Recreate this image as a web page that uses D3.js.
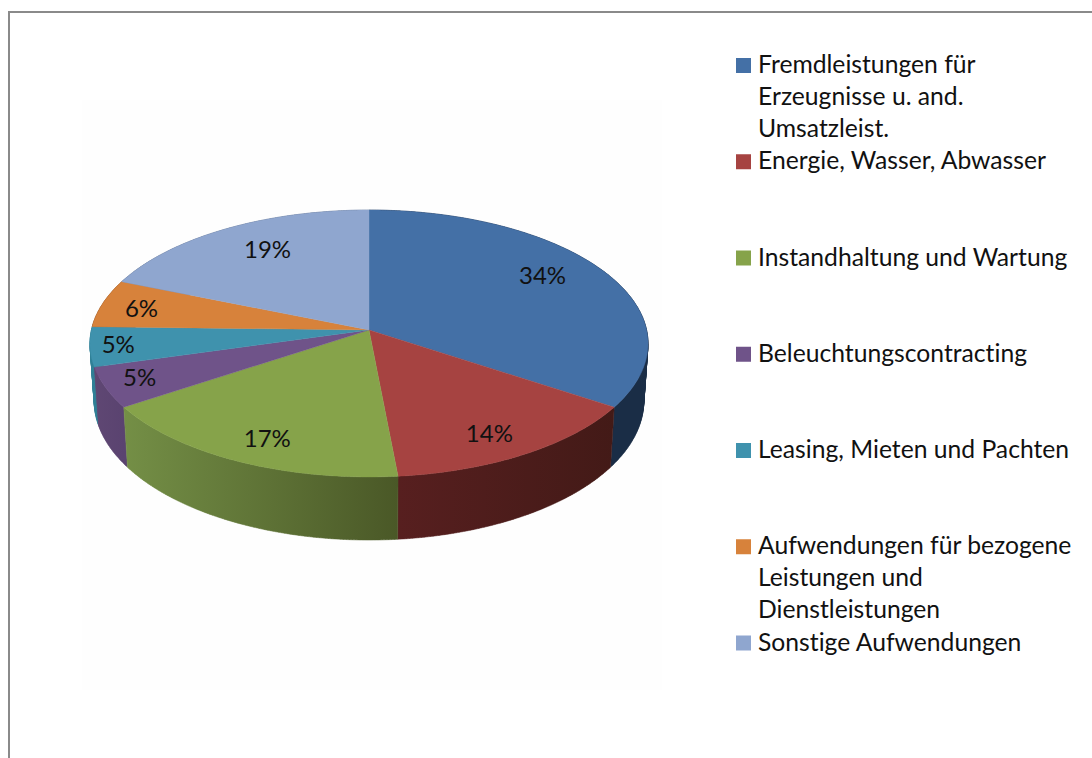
<!DOCTYPE html>
<html><head><meta charset="utf-8">
<script src="https://cdn.jsdelivr.net/npm/d3@7/dist/d3.min.js"></script>
<style>html,body{margin:0;padding:0;background:#fff;overflow:hidden}svg{display:block}
text{font-family:"Lato",sans-serif;fill:#111;font-variant-ligatures:none}</style></head>
<body><svg id="c" width="1092" height="758"></svg>
<script>
const categories=[
 ["Fremdleistungen für","Erzeugnisse u. and.","Umsatzleist."],
 ["Energie, Wasser, Abwasser"],
 ["Instandhaltung und Wartung"],
 ["Beleuchtungscontracting"],
 ["Leasing, Mieten und Pachten"],
 ["Aufwendungen für bezogene","Leistungen und","Dienstleistungen"],
 ["Sonstige Aufwendungen"]];
const values=[34.3,14.2,17.2,4.9,4.8,5.8,18.8];
const topColors=["#4470a6","#a64341","#86a34a","#6f5389","#3f92ad","#d7823b","#8fa6cf"];
const wallLeft=["#1a2d46","#571f1f","#748f46","#5f4773","#2f7f95","#8a5226","#5c6d8a"];
const wallRight=["#1a2d46","#431a17","#4a5827","#5a4370","#2f7f95","#8a5226","#5c6d8a"];
const labelRadii=[.78,.83,.83,.87,.9,.85,.76];
const labelTurn=[-5,2,-1.5,1,.5,-.5,3];

const W=1092,H=758,cx=369,cy=330;
const R=277.6,A=132.1,C=-0.1011,DEPTH=56.7,SHRINK=.985;
const svg=d3.select("#c");
svg.append("rect").attr("width",W).attr("height",H).attr("fill","#fff");
svg.append("rect").attr("x",82).attr("y",100).attr("width",580).attr("height",590).attr("fill","#fefefe");
svg.append("path").attr("d",`M9,${H}V12H${W}`).attr("fill","none").attr("stroke","#8a8a8a").attr("stroke-width",2);

const xS=d3.scaleLinear().domain([0,1]).range([cx,cx+R]);
const yS=d3.scaleLinear().domain([0,1]).range([cy,cy+A]);
// perspective projection of the unit disc; angle is clockwise from the top
function proj(a,r,low){
  const u=r*Math.sin(a),v=-r*Math.cos(a),w=1+C*v;
  const s=low?SHRINK:1;
  return [xS(u/w*s),yS(v/w)+(low?DEPTH/w:0)];
}
const pie=d3.pie().sort(null).value(d=>d)(values);
const line=d3.line().curve(d3.curveLinear);
const samples=(a0,a1)=>{const n=Math.max(2,Math.ceil((a1-a0)/0.01));return d3.range(n+1).map(i=>a0+(a1-a0)*i/n)};
const defs=svg.append("defs");
const g=svg.append("g");

// outer walls as strips of quads, far slices first
const order=d3.range(pie.length).sort((p,q)=>{
  const m=d=>-Math.cos((d.startAngle+d.endAngle)/2);return m(pie[p])-m(pie[q])});
order.forEach(i=>{
  const d=pie[i],as=samples(d.startAngle,d.endAngle);
  const xs=as.map(a=>proj(a,1,false)[0]);
  const id="w"+i;
  const gr=defs.append("linearGradient").attr("id",id).attr("gradientUnits","userSpaceOnUse")
    .attr("x1",d3.min(xs)).attr("x2",d3.max(xs)).attr("y1",0).attr("y2",0);
  gr.append("stop").attr("offset",0).attr("stop-color",wallLeft[i]);
  gr.append("stop").attr("offset",1).attr("stop-color",wallRight[i]);
  const strip=d3.pairs(as).map(([a,b])=>line([proj(a,1,false),proj(b,1,false),proj(b,1,true),proj(a,1,true)])+"Z").join("");
  g.append("path").attr("d",strip).attr("fill",`url(#${id})`).attr("stroke",`url(#${id})`).attr("stroke-width",.5);
});
// top faces
pie.forEach((d,i)=>{
  const rim=samples(d.startAngle,d.endAngle).map(a=>proj(a,1,false));
  g.append("path").attr("d",line([[cx,cy],...rim])+"Z").attr("fill",topColors[i])
   .attr("stroke",topColors[i]).attr("stroke-width",.4);
});
// value labels
const pct=d3.format(".0f");
pie.forEach((d,i)=>{
  const a=(d.startAngle+d.endAngle)/2+labelTurn[i]*Math.PI/180;
  const p=proj(a,labelRadii[i],false);
  svg.append("text").attr("x",p[0]).attr("y",p[1]).attr("dy",".36em")
    .attr("text-anchor","middle").attr("font-size",24).text(pct(d.value)+"%");
});
// legend: every entry takes three text lines
const lineY=d3.scaleLinear().domain([0,18]).range([73,650.5]);
const lg=svg.append("g");
categories.forEach((lines,i)=>{
  const y0=lineY(i*3);
  lg.append("rect").attr("x",736).attr("y",y0-15).attr("width",15).attr("height",15).attr("fill",topColors[i]);
  lines.forEach((t,j)=>{
    lg.append("text").attr("x",758).attr("y",lineY(i*3+j)).attr("font-size",24.7).text(t);
  });
});
</script></body></html>
